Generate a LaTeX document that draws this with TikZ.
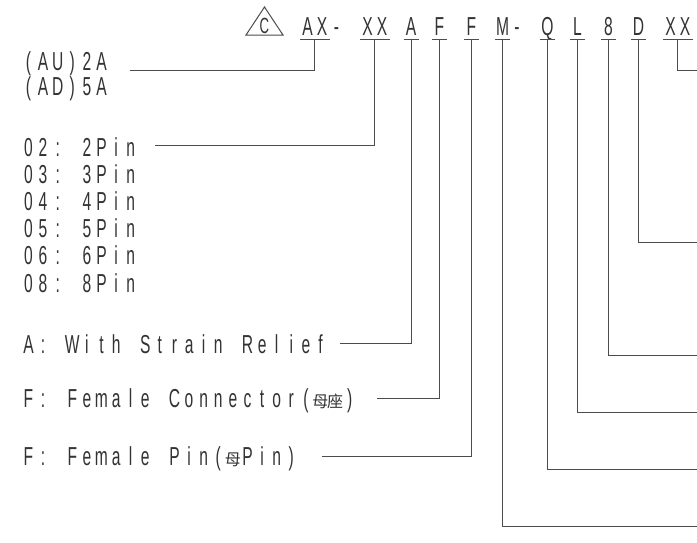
\documentclass[tikz,border=0pt]{standalone}
\usepackage{fontspec}
\setmainfont{Liberation Sans}
\newfontfamily\cadfont[FakeStretch=0.6]{Liberation Sans}
\newfontfamily\cjkfont{Noto Sans CJK SC}
\newlength\cadw
\setlength\cadw{14.6pt}
\ExplSyntaxOn
\NewDocumentCommand\cad{m}{\str_map_inline:nn {#1}{\makebox[\cadw][c]{##1}}}
\ExplSyntaxOff
\newcommand\cadcjk[1]{\makebox[\cadw][c]{\cjkfont\fontsize{16pt}{16pt}\selectfont #1}}
\tikzset{
  lbl/.style={inner sep=0pt, anchor=base west, text=black!80,
    font=\cadfont\fontsize{26pt}{27pt}\selectfont},
  code/.style={lbl},
  conn/.style={draw=black!70, line width=1pt},
  uline/.style={draw=black!70, line width=1.2pt}
}
\begin{document}
\begin{tikzpicture}[x=1pt,y=-1pt]
\useasboundingbox[fill=white] (0,0) rectangle (697,542);
% revision triangle
\draw[conn] (246,35) -- (283,35) -- (264.5,7) -- cycle;
\node[inner sep=0pt, anchor=base, text=black!80, font=\cadfont\fontsize{22pt}{23pt}\selectfont] (rev) at (264.5,33) {C};
% code segments
\node[code] (cAX) at (300,35) {\cad{AX}};
\node[code] (dAX) at (329,35) {\cad{-}};
\node[code] (cXX) at (360,35) {\cad{XX}};
\node[code] (cA)  at (403.5,35) {\cad{A}};
\node[code] (cF)  at (432,35) {\cad{F}};
\node[code] (cFF) at (464,35) {\cad{F}};
\node[code] (cM)  at (495,35) {\cad{M}};
\node[code] (dM)  at (509.5,35) {\cad{-}};
\node[code] (cQ)  at (540,35) {\cad{Q}};
\node[code] (cL)  at (570,35) {\cad{L}};
\node[code] (c8)  at (601,35) {\cad{8}};
\node[code] (cD)  at (631,35) {\cad{D}};
\node[code] (cXY) at (663,35) {\cad{XX}};
\foreach \n in {cAX,cXX,cA,cF,cFF,cM,cQ,cL,c8,cD,cXY}{
  \draw[uline] ([yshift=-4.5pt]\n.base west) -- ([yshift=-4.5pt]\n.base east);
  \coordinate (u\n) at ([yshift=-4.5pt]\n.base);
}
% left labels
\node[lbl] (tAU) at (21,70) {\cad{(AU)2A}};
\node[lbl] (tAD) at (21,95) {\cad{(AD)5A}};
\node[lbl] (t02) at (21,156) {\cad{02: 2Pin}};
\node[lbl] (t03) at (21,183.2) {\cad{03: 3Pin}};
\node[lbl] (t04) at (21,210.4) {\cad{04: 4Pin}};
\node[lbl] (t05) at (21,237.6) {\cad{05: 5Pin}};
\node[lbl] (t06) at (21,264.8) {\cad{06: 6Pin}};
\node[lbl] (t08) at (21,292) {\cad{08: 8Pin}};
\node[lbl] (tA) at (21,353) {\cad{A: With Strain Relief}};
\node[lbl] (tF) at (21,407) {\cad{F: Female Connector(}\cadcjk{母}\cadcjk{座}\cad{)}};
\node[lbl] (tP) at (21,465) {\cad{F: Female Pin(}\cadcjk{母}\cad{Pin)}};
% connector end points
\coordinate (eAX) at (130,70);
\coordinate (eXX) at (155,145);
\coordinate (eA)  at (340,343);
\coordinate (eF)  at (377,398);
\coordinate (eFF) at (322,456);
\coordinate (eM)  at (697,526);
\coordinate (eQ)  at (697,469);
\coordinate (eL)  at (697,412);
\coordinate (e8)  at (697,355);
\coordinate (eD)  at (697,242);
\coordinate (eXY) at (697,70);
% connectors
\foreach \n in {AX,XX,A,F,FF,M,Q,L,8,D,XY}{
  \draw[conn] (uc\n) |- (e\n);
}
\end{tikzpicture}
\end{document}
